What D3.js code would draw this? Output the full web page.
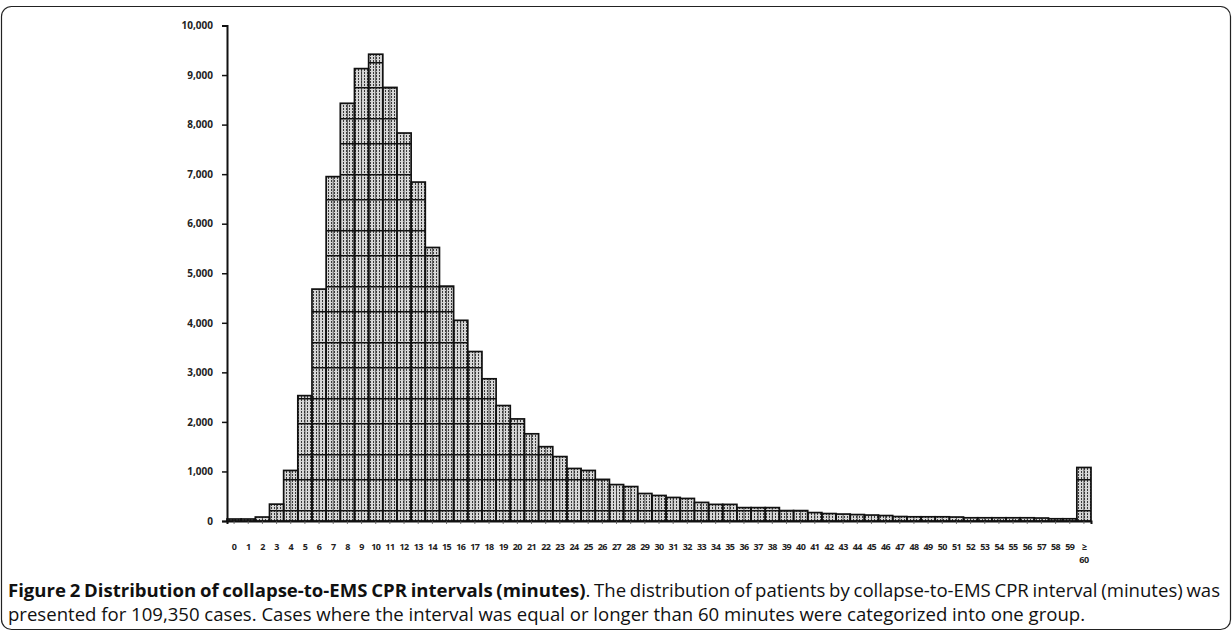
<!DOCTYPE html>
<html>
<head>
<meta charset="utf-8">
<title>Collapse-to-EMS CPR intervals</title>
<script src="https://d3js.org/d3.v7.min.js"></script>
<style>
  body { margin: 0; background: #fff; }
  text { font-family: "Open Sans", sans-serif; }
</style>
</head>
<body>
<script>
// categories: interval in minutes, last one is ">= 60"
var minutes = d3.range(0, 60).map(String).concat(["≥60"]);
// number of patients per interval
var counts = [
  40, 40, 80, 340, 1020, 2530, 4680, 6950, 8430, 9130,
  9420, 8750, 7830, 6840, 5520, 4740, 4050, 3420, 2870, 2330,
  2060, 1760, 1500, 1300, 1060, 1020, 840, 735, 695, 555,
  515, 475, 455, 375, 335, 335, 270, 270, 270, 210,
  210, 170, 150, 140, 130, 120, 110, 90, 85, 85,
  85, 80, 65, 65, 65, 65, 65, 60, 45, 45,
  1080
];
var yTicks = d3.range(0, 10001, 1000);

var data = minutes.map(function(m, i) { return { min: m, value: counts[i] }; });

var W = 1232, H = 632;
var svg = d3.select("body").append("svg")
  .attr("width", W)
  .attr("height", H);

// frame round the figure
svg.append("rect")
  .attr("x", 1.5).attr("y", 6.5)
  .attr("width", 1229).attr("height", 623)
  .attr("rx", 10)
  .attr("fill", "none")
  .attr("stroke", "#222")
  .attr("stroke-width", 1.2);

// scales
var x = d3.scaleBand().domain(minutes).range([227, 1091]).padding(0);
var y = d3.scaleLinear().domain([0, 10000]).range([521, 25.5]);

// fill patterns: fine dot screen + horizontal rules
var defs = svg.append("defs");
var dots = defs.append("pattern")
  .attr("id", "dots")
  .attr("patternUnits", "userSpaceOnUse")
  .attr("width", 3).attr("height", 3);
dots.append("rect").attr("width", 3).attr("height", 3).attr("fill", "#d6d6d6");
dots.append("rect").attr("x", 1).attr("y", 0).attr("width", 1).attr("height", 2).attr("fill", "#3a3a3a");

var rules = defs.append("pattern")
  .attr("id", "rules")
  .attr("patternUnits", "userSpaceOnUse")
  .attr("y", 31)
  .attr("width", 20).attr("height", 56);
rules.append("rect").attr("y", 0).attr("width", 20).attr("height", 1.5).attr("fill", "#111");
rules.append("rect").attr("y", 31).attr("width", 20).attr("height", 1.5).attr("fill", "#111");

// bars
var bars = svg.append("g");
bars.selectAll(".bar")
  .data(data)
  .enter()
  .append("rect")
  .attr("class", "bar")
  .attr("x", function(d) { return x(d.min); })
  .attr("width", x.bandwidth())
  .attr("y", function(d) { return y(d.value); })
  .attr("height", function(d) { return y(0) - y(d.value); })
  .attr("fill", "url(#dots)");

bars.selectAll(".rule")
  .data(data)
  .enter()
  .append("rect")
  .attr("class", "rule")
  .attr("x", function(d) { return x(d.min); })
  .attr("width", x.bandwidth())
  .attr("y", function(d) { return y(d.value); })
  .attr("height", function(d) { return y(0) - y(d.value); })
  .attr("fill", "url(#rules)");

// thin divider in the middle of each bar
bars.selectAll(".mid")
  .data(data)
  .enter()
  .append("line")
  .attr("class", "mid")
  .attr("x1", function(d) { return x(d.min) + x.bandwidth() / 2; })
  .attr("x2", function(d) { return x(d.min) + x.bandwidth() / 2; })
  .attr("y1", function(d) { return y(d.value); })
  .attr("y2", y(0))
  .attr("stroke", "#333")
  .attr("stroke-width", 0.8);

bars.selectAll(".outline")
  .data(data)
  .enter()
  .append("rect")
  .attr("class", "outline")
  .attr("x", function(d) { return x(d.min); })
  .attr("width", x.bandwidth())
  .attr("y", function(d) { return y(d.value); })
  .attr("height", function(d) { return y(0) - y(d.value); })
  .attr("fill", "none")
  .attr("stroke", "#111")
  .attr("stroke-width", 1.7);

// y axis
var yAxis = svg.append("g")
  .attr("transform", "translate(227,0)")
  .call(d3.axisLeft(y).tickValues(yTicks).tickFormat(d3.format(",")).tickSize(5).tickPadding(9));
yAxis.select(".domain").attr("stroke", "#111").attr("stroke-width", 2);
yAxis.selectAll(".tick line").attr("stroke", "#111").attr("stroke-width", 1.5);
yAxis.selectAll("text")
  .style("font-family", "'Open Sans', sans-serif")
  .style("font-size", "10px")
  .style("font-weight", "bold")
  .attr("fill", "#222");

// x axis
var xAxis = svg.append("g")
  .attr("transform", "translate(0,521)")
  .call(d3.axisBottom(x).tickSize(3).tickPadding(20).tickFormat(function(d) { return d === "≥60" ? "" : d; }));
xAxis.select(".domain").attr("stroke", "#111").attr("stroke-width", 2);
xAxis.selectAll(".tick line").attr("stroke", "#555").attr("stroke-width", 0.8);
xAxis.selectAll("text")
  .style("font-family", "'Open Sans', sans-serif")
  .style("font-size", "9px")
  .style("font-weight", "bold")
  .style("letter-spacing", "-0.6px")
  .attr("fill", "#222");

// the last category label on two lines
var lastTick = xAxis.selectAll(".tick").filter(function(d) { return d === "≥60"; });
var lt = lastTick.select("text").text(null);
lt.append("tspan").attr("x", 0).attr("dy", "0.71em").text("≥");
lt.append("tspan").attr("x", 0).attr("dy", "1.45em").text("60");

// caption
var cap = svg.append("g").attr("fill", "#111");
var line1 = cap.append("text").attr("x", 8).attr("y", 597);
line1.append("tspan").attr("font-weight", "bold")
  .text("Figure 2 Distribution of collapse-to-EMS CPR intervals (minutes)");
line1.append("tspan")
  .text(". The distribution of patients by collapse-to-EMS CPR interval (minutes) was");
var line2 = cap.append("text").attr("x", 8).attr("y", 621)
  .text("presented for 109,350 cases. Cases where the interval was equal or longer than 60 minutes were categorized into one group.");

// fit caption size to the printed width
cap.selectAll("text").style("font-size", "15px");
var w2 = line2.node().getComputedTextLength();
var fs = 15 * 1078 / w2;
cap.selectAll("text").style("font-size", fs + "px");
var w1 = line1.node().getComputedTextLength();
var spaces = (line1.text().match(/ /g) || []).length;
line1.style("word-spacing", ((1212 - w1) / spaces) + "px");
</script>
</body>
</html>
